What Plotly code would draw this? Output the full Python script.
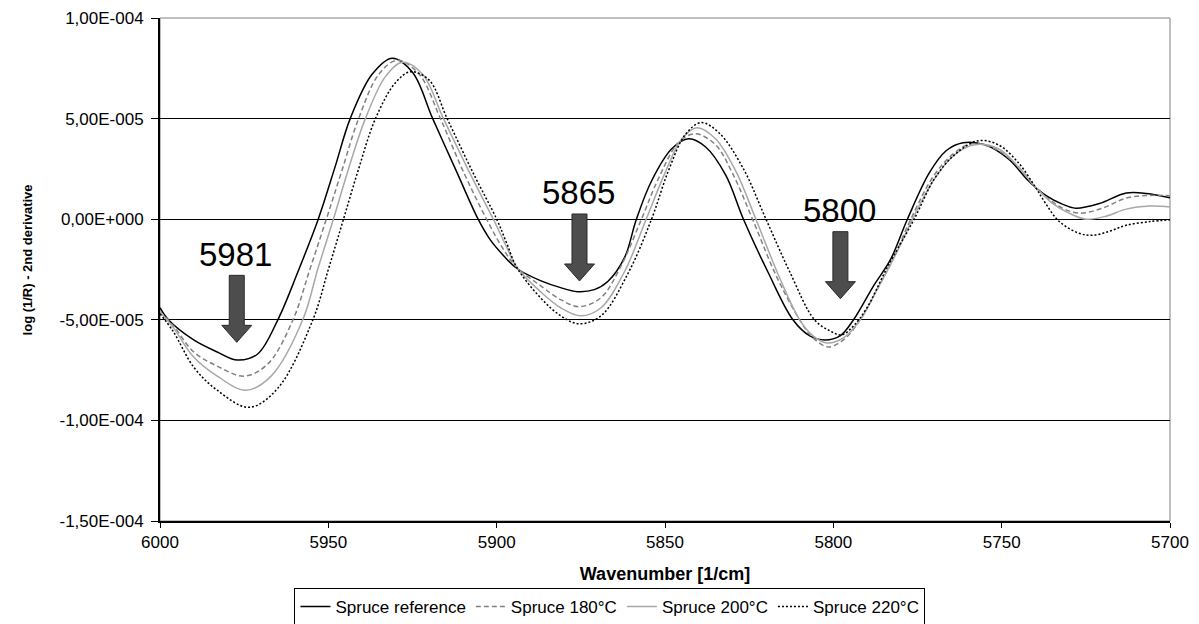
import plotly.graph_objects as go

SCALE = 1e-5  # values below are read in units of 1E-005

ref_wn = [6000, 5997.5, 5990, 5983, 5977, 5971, 5965, 5959, 5953, 5948, 5943.5, 5937, 5931, 5925,
          5919, 5912, 5905.5, 5902, 5898, 5894, 5887, 5881, 5876, 5871, 5867, 5862, 5858.5, 5854,
          5848, 5843, 5838, 5832, 5826.7, 5819.5, 5812, 5807, 5802.5, 5798, 5794, 5788, 5783, 5778,
          5771.5, 5766.5, 5761.5, 5755, 5748, 5742, 5737, 5732, 5728, 5721, 5713, 5707, 5700]
ref_val = [-4.4, -5.0, -6.0, -6.6, -7.0, -6.7, -5.0, -2.6, 0.0, 2.6, 5.0, 7.2, 8.0, 7.3,
           5.0, 2.4, 0.0, -1.0, -1.8, -2.45, -3.05, -3.4, -3.6, -3.5, -3.1, -1.9, 0.0, 1.9,
           3.5, 4.0, 3.6, 2.2, 0.0, -2.6, -5.0, -5.8, -6.0, -5.8, -5.0, -3.3, -2.0, 0.0,
           2.3, 3.4, 3.8, 3.7, 3.0, 1.9, 1.2, 0.75, 0.55, 0.78, 1.3, 1.28, 1.06]

s180_wn = [6000, 5996, 5990, 5983, 5975, 5968, 5960.5, 5955.5, 5950.6, 5946, 5941, 5935, 5929.5, 5923,
           5916.7, 5910, 5903, 5898, 5894, 5887, 5881, 5875.5, 5869, 5863, 5857, 5852, 5846, 5841,
           5835, 5830, 5824, 5817, 5810, 5806, 5801.5, 5797, 5792, 5787, 5782, 5777, 5770, 5764,
           5759, 5752, 5745, 5740, 5736, 5732, 5727, 5720, 5713, 5706, 5700]
s180_val = [-4.6, -5.3, -6.6, -7.3, -7.8, -7.2, -5.0, -2.5, 0.0, 2.4, 5.0, 7.2, 7.9, 7.2,
            5.0, 2.4, 0.0, -1.5, -2.4, -3.3, -4.0, -4.35, -3.9, -2.3, 0.0, 2.0, 3.8, 4.25,
            3.7, 2.3, 0.0, -2.8, -5.0, -5.9, -6.35, -6.0, -5.0, -3.5, -1.9, 0.0, 2.2, 3.3,
            3.75, 3.5, 2.6, 1.6, 1.0, 0.55, 0.3, 0.55, 1.05, 1.18, 1.17]

s200_wn = [6000, 5996, 5990, 5983, 5974.5, 5967, 5957.6, 5953, 5948.5, 5944, 5939, 5933, 5928, 5922,
           5915.8, 5908, 5901, 5897, 5894, 5887, 5881, 5875, 5869, 5862, 5855.6, 5850, 5845, 5840.5,
           5835, 5829, 5823, 5816, 5810, 5806, 5802, 5797, 5792, 5787, 5781, 5776.5, 5770, 5764,
           5758, 5751, 5745, 5740, 5735, 5730, 5725, 5719, 5713, 5706, 5700]
s200_val = [-4.6, -5.4, -6.85, -7.8, -8.5, -7.8, -5.0, -2.4, 0.0, 2.5, 5.0, 7.1, 7.8, 7.2,
            5.0, 2.3, 0.0, -1.4, -2.4, -3.6, -4.4, -4.8, -4.4, -2.6, 0.0, 2.3, 4.0, 4.55,
            4.0, 2.4, 0.0, -2.9, -5.0, -5.8, -6.15, -5.9, -5.0, -3.5, -1.6, 0.0, 2.0, 3.2,
            3.7, 3.5, 2.6, 1.6, 0.8, 0.3, 0.0, 0.15, 0.5, 0.65, 0.61]

s220_wn = [6000, 5996, 5990, 5983, 5973.5, 5965, 5954.6, 5950, 5945.5, 5941, 5936, 5930, 5925.5, 5920,
           5914.7, 5907, 5900, 5897, 5894, 5887, 5881, 5875.5, 5869, 5861, 5854, 5849, 5844, 5839.3,
           5834, 5827, 5820, 5813, 5805.6, 5801, 5797.5, 5794, 5790, 5784, 5776, 5770, 5764, 5757,
           5751, 5745, 5740, 5737, 5733, 5727, 5723, 5718, 5713, 5706, 5700]
s220_val = [-4.7, -5.6, -7.35, -8.5, -9.35, -8.4, -5.0, -2.5, 0.0, 2.5, 5.0, 6.8, 7.33, 6.9,
            5.0, 2.3, 0.0, -1.2, -2.4, -3.9, -4.8, -5.2, -4.8, -2.7, 0.0, 2.4, 4.2, 4.8,
            4.3, 2.6, 0.0, -2.6, -5.0, -5.55, -5.75, -5.3, -4.4, -2.4, 0.0, 2.0, 3.2, 3.9,
            3.7, 2.8, 1.6, 0.8, -0.1, -0.7, -0.8, -0.6, -0.3, -0.12, -0.03]

series_names = ["Spruce reference", "Spruce 180°C", "Spruce 200°C", "Spruce 220°C"]

x_ticks = [6000, 5950, 5900, 5850, 5800, 5750, 5700]
y_ticks = [-1.5e-4, -1.0e-4, -5.0e-5, 0.0, 5.0e-5, 1.0e-4]
y_ticktext = ["-1,50E-004", "-1,00E-004", "-5,00E-005", "0,00E+000", "5,00E-005", "1,00E-004"]

# arrow markers: label, wavenumber, tip value (units 1E-005)
arrow_labels = ["5981", "5865", "5800"]
arrow_wn = [5977.2, 5875.4, 5797.9]
arrow_tip = [-6.12, -3.07, -3.95]

styles = [
    dict(color="black", width=1.5),
    dict(color="#808080", width=1.5, dash="5px,3px"),
    dict(color="#a8a8a8", width=1.5),
    dict(color="black", width=1.5, dash="2px,2px"),
]

fig = go.Figure()
for name, wn, val, st in zip(series_names,
                             [ref_wn, s180_wn, s200_wn, s220_wn],
                             [ref_val, s180_val, s200_val, s220_val],
                             styles):
    fig.add_trace(go.Scatter(x=wn, y=[v * SCALE for v in val], mode="lines", name=name,
                             line=dict(shape="spline", smoothing=1.0, **st)))

FONT = "Liberation Sans, Arial, sans-serif"
shapes = [dict(type="rect", xref="paper", yref="paper", x0=0, x1=1, y0=0, y1=1,
               line=dict(color="#808080", width=1), layer="below")]
annotations = []
arrow_path = "M0,0 L-15,17 L-7.5,17 L-7.5,67 L7.5,67 L7.5,17 L15,17 Z"
for lab, xw, yt in zip(arrow_labels, arrow_wn, arrow_tip):
    shapes.append(dict(type="path", xref="x", yref="y", xsizemode="pixel", ysizemode="pixel",
                       xanchor=xw, yanchor=yt * SCALE, path=arrow_path,
                       fillcolor="#4d4d4d", line=dict(color="#2a2a2a", width=1), layer="above"))
    annotations.append(dict(x=xw, y=yt * SCALE, xref="x", yref="y", text=lab, showarrow=False,
                            yshift=88, xshift=-1, font=dict(family=FONT, size=33, color="black")))

# y-axis title (placed as rotated text to match the original's offset)
annotations.append(dict(x=-0.1317, y=0.52, xref="paper", yref="paper", xanchor="center",
                        yanchor="middle", textangle=-90, showarrow=False,
                        text="<b>log (1/R) - 2nd derivative</b>",
                        font=dict(family=FONT, size=13, color="black")))

fig.update_layout(
    width=1199, height=624,
    margin=dict(l=160, r=29, t=18, b=103, autoexpand=False),
    paper_bgcolor="white", plot_bgcolor="white",
    font=dict(family=FONT, size=17, color="black"),
    shapes=shapes, annotations=annotations,
    showlegend=True,
    legend=dict(orientation="h", x=0.4455, xanchor="center", y=-0.171, yanchor="middle",
                bordercolor="black", borderwidth=1, bgcolor="white",
                font=dict(family=FONT, size=17, color="black"), itemwidth=30),
    xaxis=dict(range=[6000, 5700], tickvals=x_ticks, ticks="outside", ticklen=5,
               tickcolor="black", showline=True, linecolor="black", linewidth=2,
               showgrid=False, zeroline=False, tickfont=dict(size=17),
               title=dict(text="<b>Wavenumber [1/cm]</b>", font=dict(size=18), standoff=16)),
    yaxis=dict(range=[-1.5e-4, 1e-4], tickvals=y_ticks, ticktext=y_ticktext, ticks="outside",
               ticklen=7, tickcolor="black", showline=True, linecolor="black", linewidth=2,
               showgrid=True, gridcolor="black", gridwidth=1, zeroline=False,
               tickfont=dict(size=17), ticklabelstandoff=4),
)

fig.write_html("out.html")
